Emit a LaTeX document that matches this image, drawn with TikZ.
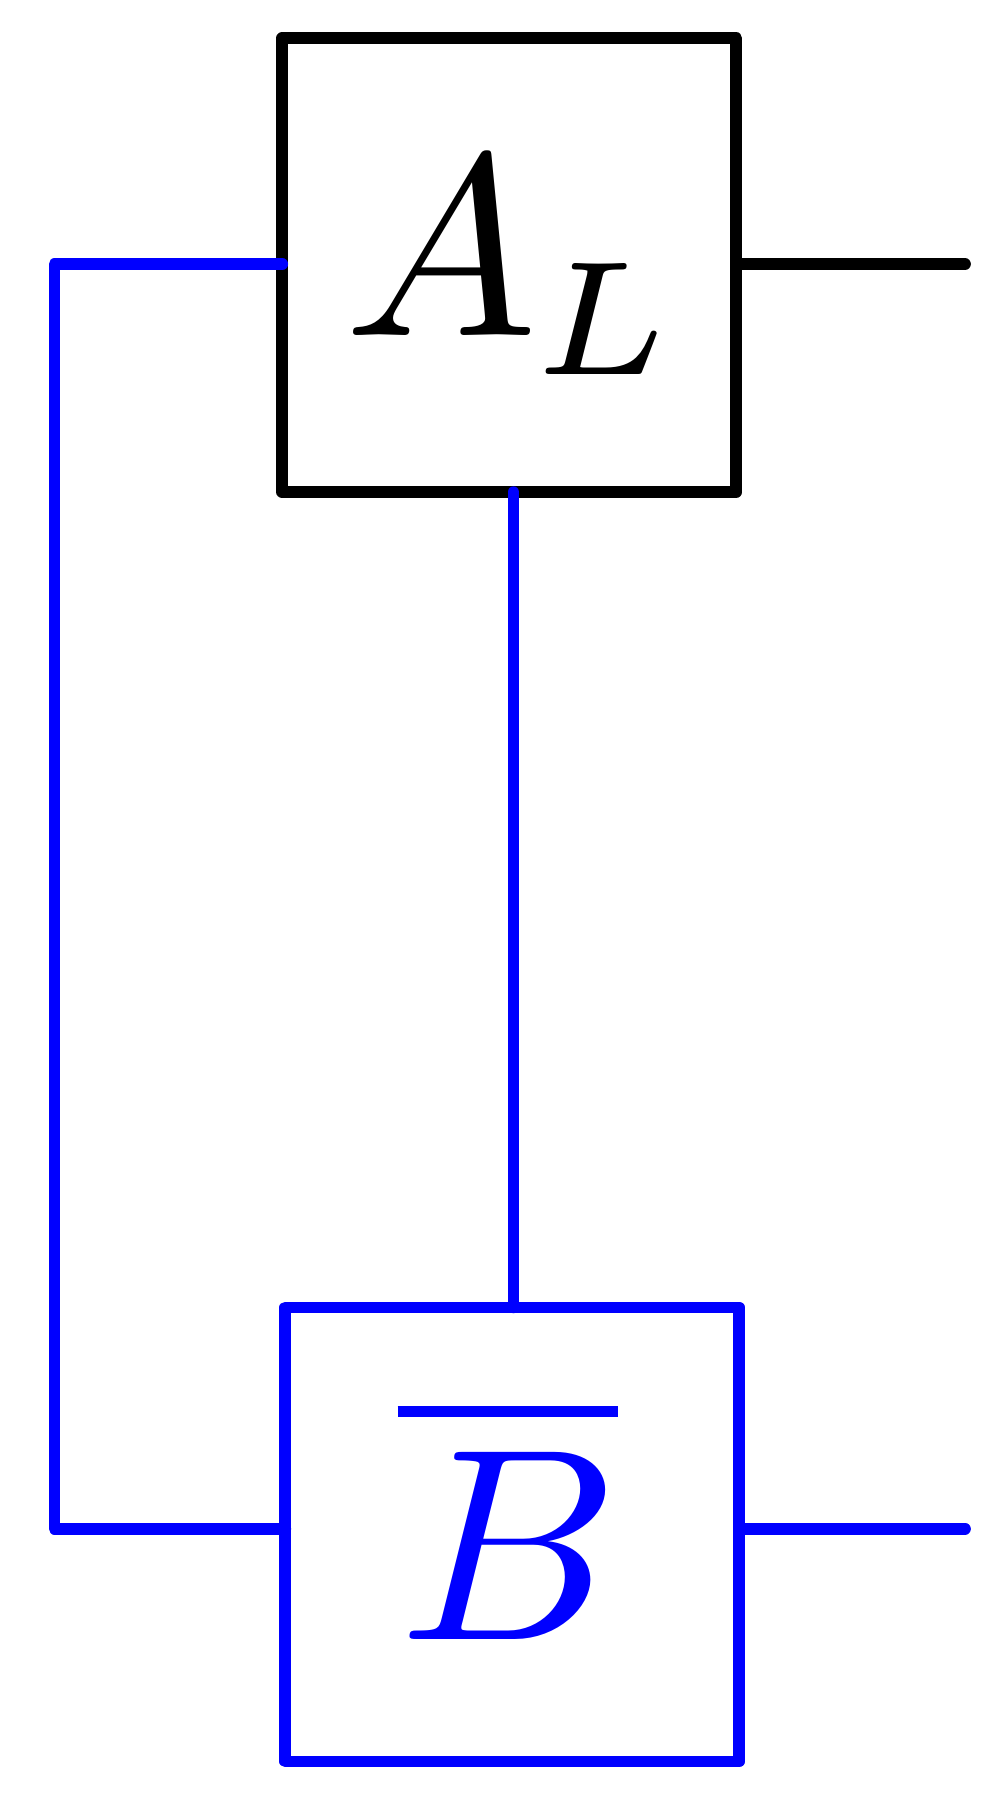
\RequirePackage{fix-cm}
\documentclass[tikz,border=0pt]{standalone}
\DeclareMathSizes{10}{10}{6.3}{5}
\begin{document}
\begin{tikzpicture}[x=0.25pt,y=-0.25pt,
  wire/.style={line width=2.92pt,line cap=round,line join=round},
  blockbox/.style={draw,line width=2.92pt,line join=round,minimum width=113.5pt,
    minimum height=113.5pt,inner sep=0pt,outer sep=0pt},
  symtext/.style={inner sep=0pt,outer sep=0pt,anchor=base}]
\useasboundingbox (0,0) rectangle (1000,1815);

% blocks
\node[blockbox] (al) at (509.25,265.15) {};
\node[blockbox,draw=blue] (bb) at (512.3,1534.4) {};

% block symbols
\node[symtext,scale=6.45] (altext) at (514,336) {$A_{\mkern-0.5mu L}$};
\node[symtext,scale=6.85,text=blue] (btext) at (509.5,1639.3) {$B$};
\draw[blue,line width=2.83pt] (397.7,1411.7) -- (617.7,1411.7);

% wire end points
\coordinate (lt) at (54.5,264.1);
\coordinate (lb) at (54.5,1528.7);
\coordinate (aout) at (965,264.1);
\coordinate (bout) at (965,1528.7);
\coordinate (mid) at (513.4,0);

% wires
\draw[wire] (al.east |- aout) -- (aout);
\draw[wire,blue] (bb.east |- bout) -- (bout);
\draw[wire,blue] (al.west |- lt) -- (lt) -- (lb) -- (bb.west |- lb);
\draw[wire,blue] (al.south -| mid) -- (bb.north -| mid);
\end{tikzpicture}
\end{document}
